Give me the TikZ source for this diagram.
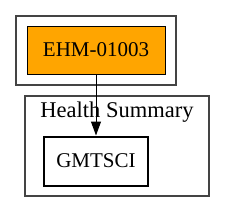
\documentclass[tikz,border=0pt]{standalone}
\usepackage{fontspec}
\setmainfont{Liberation Serif}
\usetikzlibrary{arrows.meta}
\definecolor{orangefill}{HTML}{FFA500}
\definecolor{clustergray}{HTML}{444444}
\begin{document}
\begin{tikzpicture}[x=1pt,y=-1pt,
  cluster/.style={draw=clustergray,line width=1.1pt},
  nodebox/.style={draw=black,inner sep=0pt,font=\fontsize{21}{24}\selectfont},
  edge/.style={draw=black,line width=1pt,-{Triangle[length=14pt,width=10pt]}}]
\useasboundingbox (0,0) rectangle (225,212);
\draw[cluster] (16,16) rectangle (176,85);
\draw[cluster] (25,96) rectangle (209,196);
\node[font=\fontsize{22.5}{24}\selectfont,inner sep=0pt] (lbl) at (117,112) {Health Summary};
\node[nodebox,fill=orangefill,line width=1pt,minimum width=138pt,minimum height=48pt] (a) at (96,50) {EHM-01003};
\node[nodebox,line width=2pt,minimum width=104pt,minimum height=49pt] (b) at (96,161) {GMTSCI};
\draw[edge] (a) -- (b);
\end{tikzpicture}
\end{document}
